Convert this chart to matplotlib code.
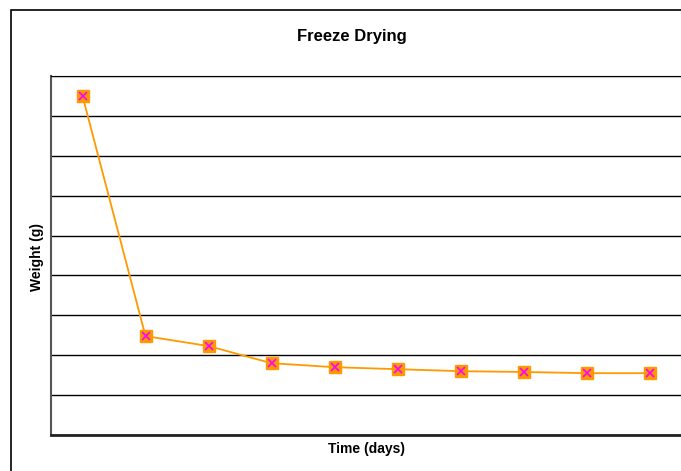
import matplotlib.pyplot as plt
from matplotlib.patches import Rectangle

plt.rcParams['font.family'] = ['Liberation Sans', 'DejaVu Sans']

days = [1, 2, 3, 4, 5, 6, 7, 8, 9, 10]
weight = [8.50, 2.48, 2.23, 1.80, 1.70, 1.65, 1.60, 1.58, 1.55, 1.55]

W, H = 681, 471
fig = plt.figure(figsize=(W / 100, H / 100), dpi=100)

# outer chart frame, runs off the right and bottom edges
fig.patches.append(Rectangle((11 / W, -0.1), 1.2, (H - 10) / H + 0.1,
                             transform=fig.transFigure, fill=False,
                             edgecolor='black', linewidth=1.2))

ax = fig.add_axes([51 / W, (H - 435) / H, 630 / W, 359 / H])
ax.plot(days, weight, color='#FF9900', linewidth=1.3, zorder=3)
ax.plot(days, weight, linestyle='none', marker='s', markersize=8,
        markerfacecolor='#FF9900', markeredgecolor='#FF9900', zorder=4)
ax.plot(days, weight, linestyle='none', marker='x', markersize=5.5,
        markeredgecolor='#FF00FF', markeredgewidth=1.2, zorder=5)

ax.set_xlim(0.5, 10.5)
ax.set_ylim(0, 9)
ax.set_yticks(range(10))
ax.yaxis.grid(True, color='black', linewidth=1)
ax.set_axisbelow(True)
ax.tick_params(left=False, bottom=False, labelleft=False, labelbottom=False)
ax.set_xticks([])
ax.spines['top'].set_color('black')
ax.spines['right'].set_visible(False)
ax.spines['left'].set_color('#555555')
ax.spines['left'].set_linewidth(1.5)
ax.spines['bottom'].set_color('#222222')
ax.spines['bottom'].set_linewidth(2)

fig.text(352 / W, 1 - 37 / H, 'Freeze Drying', fontsize=12, fontweight='bold',
         ha='center', va='center')
fig.text(367 / W, 1 - 449 / H, 'Time (days)', fontsize=10, fontweight='bold',
         ha='center', va='center')
fig.text(37 / W, 1 - 257 / H, 'Weight (g)', fontsize=10, fontweight='bold',
         ha='center', va='center', rotation=90)

fig.savefig('out.png', dpi=100)
